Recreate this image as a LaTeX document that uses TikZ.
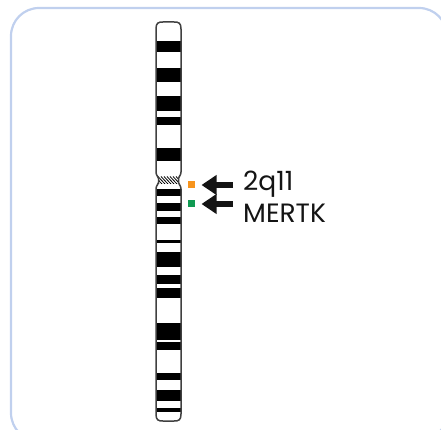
\documentclass[tikz,border=0pt]{standalone}
\usepackage{fontspec}
\setmainfont{Poppins}
\usetikzlibrary{arrows.meta}
\definecolor{framecol}{RGB}{192,208,238}
\definecolor{markorange}{RGB}{247,148,29}
\definecolor{markgreen}{RGB}{16,154,82}
\definecolor{inkcol}{RGB}{20,20,20}
% outline of the chromosome, with the centromere constriction
\def\chrshape{(156,172) -- (156,29) .. controls (156,23) and (158,22) .. (163,22) -- (174,22) .. controls (179,22) and (181,23) .. (181,29) -- (181,172) .. controls (181,176) and (178.5,176) .. (178.5,178.5) -- (178.5,182.5) .. controls (178.5,185) and (181,185) .. (181,189) -- (181,414) .. controls (181,420) and (179,421) .. (174,421) -- (163,421) .. controls (158,421) and (156,420) .. (156,414) -- (156,189) .. controls (156,185) and (158.5,185) .. (158.5,182.5) -- (158.5,178.5) .. controls (158.5,176) and (156,176) .. (156,172) -- cycle}
\begin{document}
\begin{tikzpicture}[x=1pt,y=-1pt,
  chromline/.style={draw=black!75, line width=1.5pt},
  marker/.style={minimum size=7pt, inner sep=0pt, outer sep=0pt},
  pointer/.style={inkcol, line width=6pt, -{Triangle[length=15pt,width=19pt]}},
  tagtext/.style={anchor=base west, inner sep=0pt, text=inkcol, font=\fontsize{26.5}{26.5}\selectfont}]
\useasboundingbox (0,0) rectangle (441,430);
% panel frame
\draw[framecol, line width=2.2pt, rounded corners=28pt] (11,8) rectangle (447,441);
% chromosome body and G-bands
\fill[white] \chrshape;
\begin{scope}
  \clip \chrshape;
  \foreach \a/\b in {41/52,68/82,96/111,117/125,148/161,189/196,203/211,217/224,240/243,252/267,275/284,288/298,323/340,342/350,373/380,390/401,408/412}
    \fill[black] (150,\a) rectangle (190,\b);
  % hatched centromere
  \begin{scope}
    \clip (150,176.5) rectangle (190,184);
    \foreach \x in {143,146,...,185}
      \draw[line width=0.8pt] (\x,176.5) -- (\x+7,184);
  \end{scope}
\end{scope}
\draw[chromline] \chrshape;
% locus markers and pointers
\node[marker, fill=markorange] (mk1) at (191.5,185) {};
\node[marker, fill=markgreen] (mk2) at (191.5,204) {};
\coordinate (t1) at (233,185);
\coordinate (t2) at (233,204);
\draw[pointer] (t1) -- ([xshift=6.5pt]mk1.east);
\draw[pointer] (t2) -- ([xshift=6.5pt]mk2.east);
% labels
\node[tagtext] (lb1) at (243,190.7) {2q11};
\node[tagtext] (lb2) at (243,222.3) {MERTK};
\end{tikzpicture}
\end{document}
